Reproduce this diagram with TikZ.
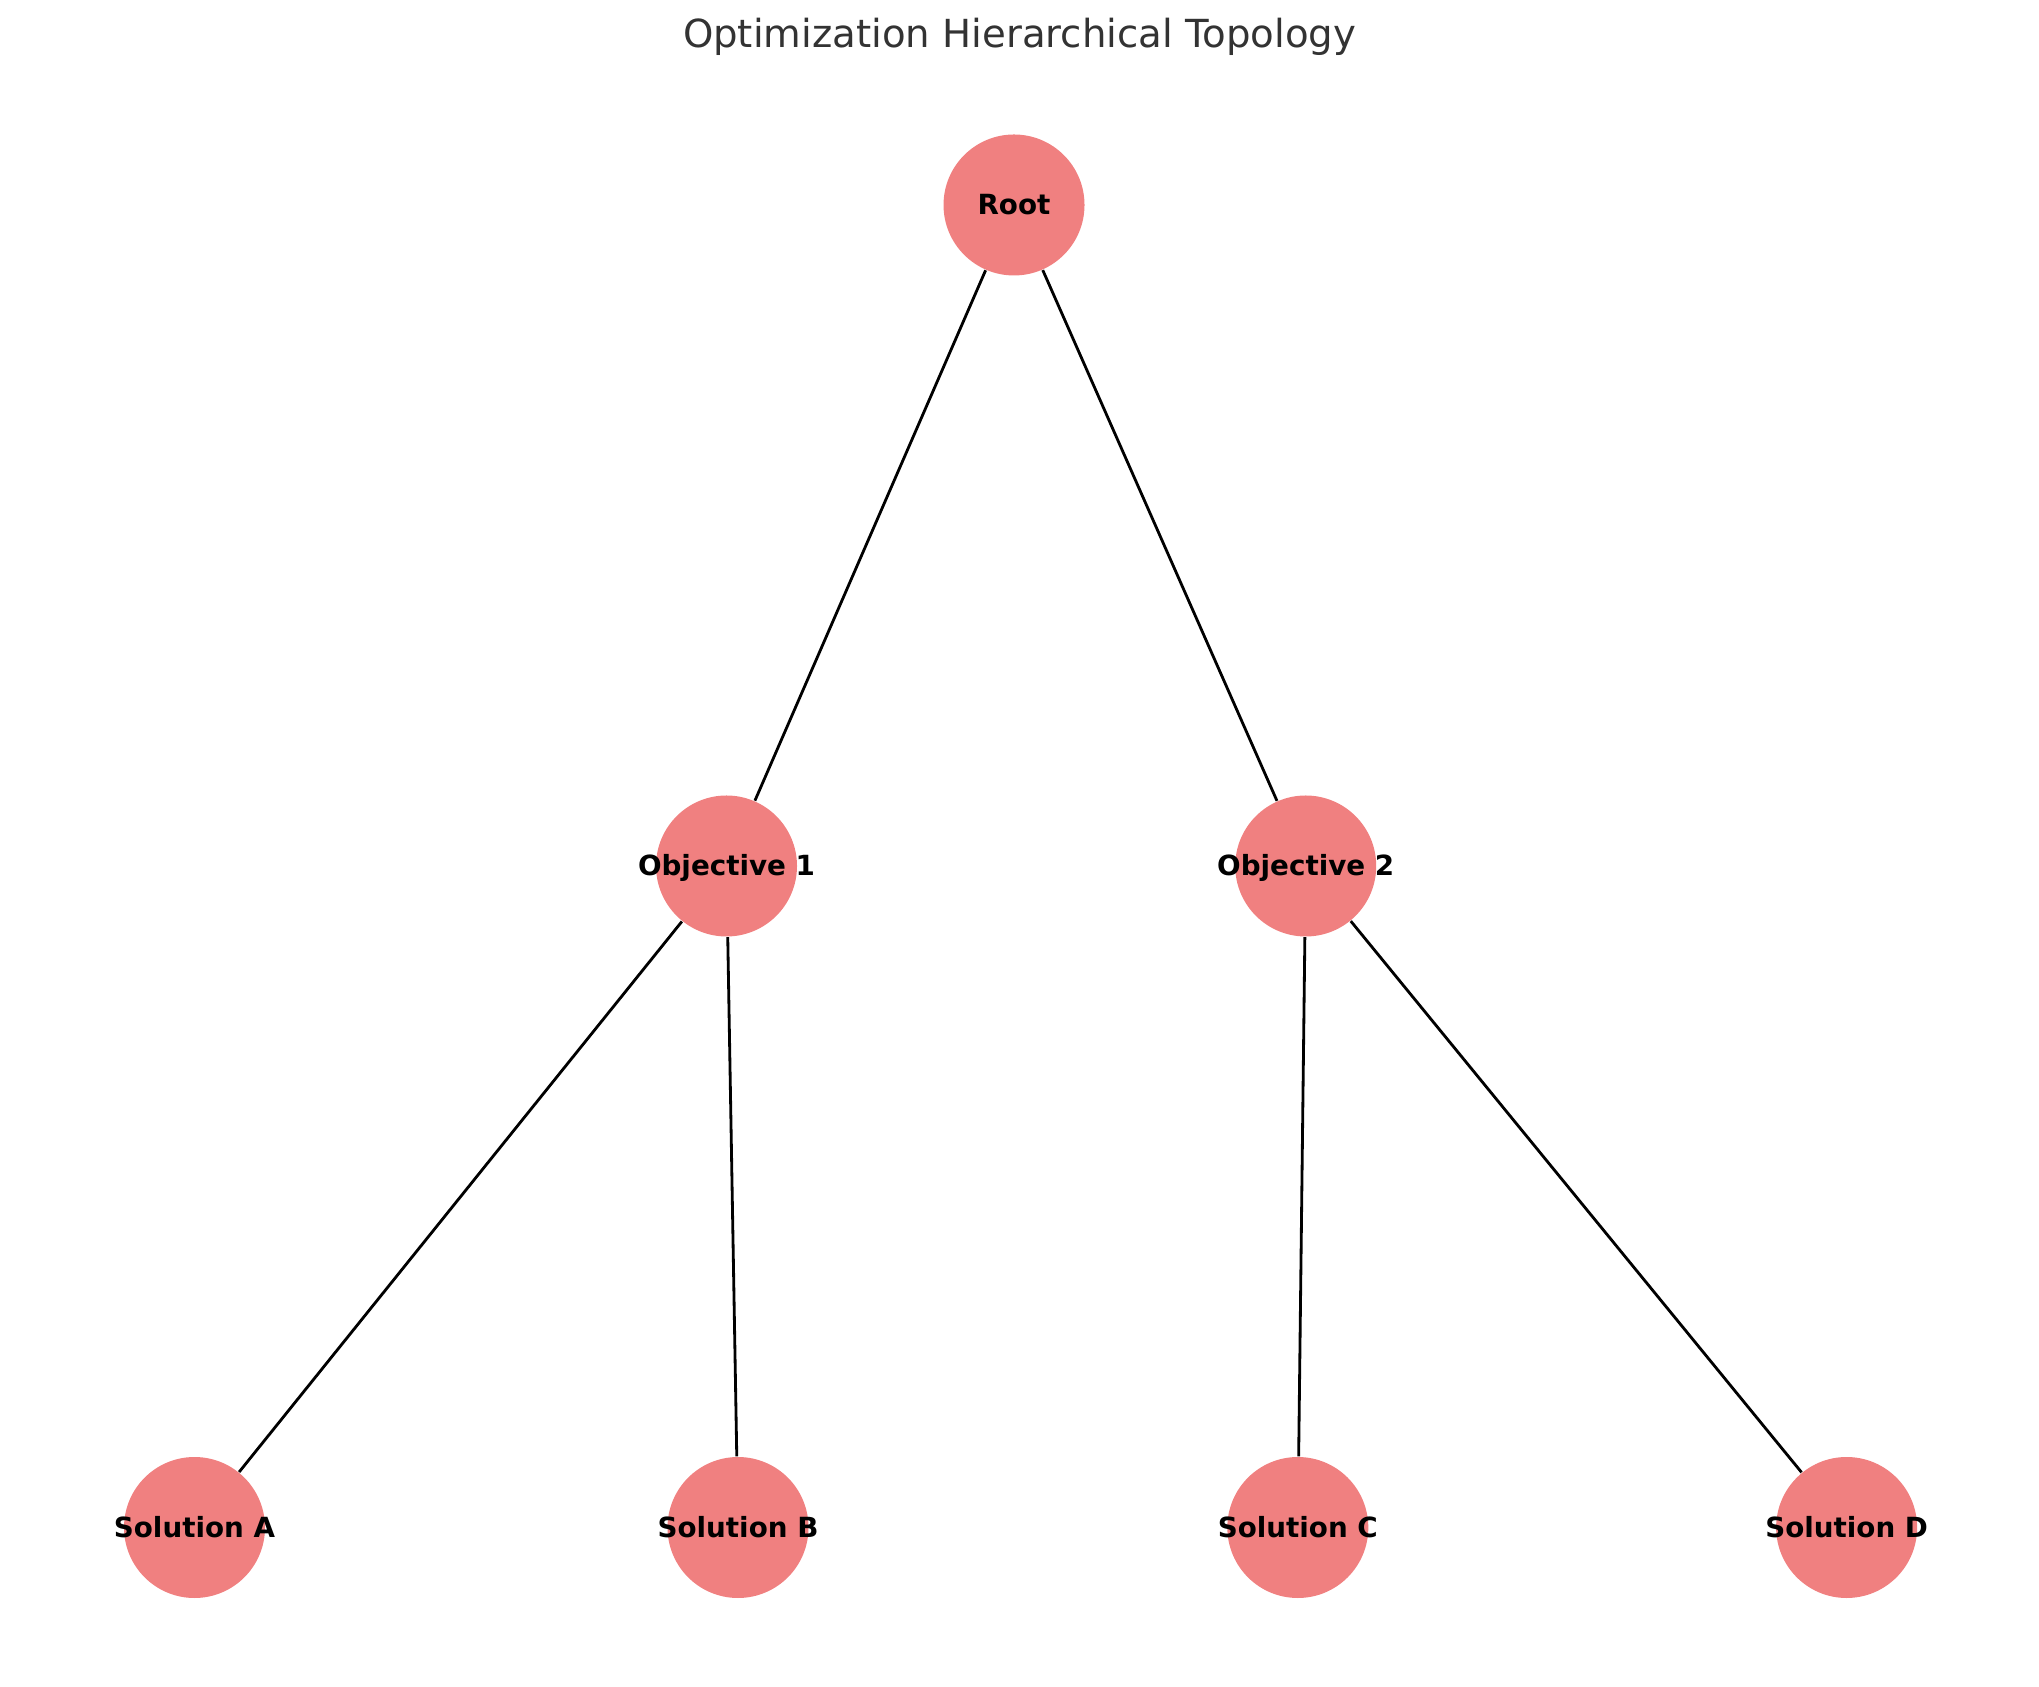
\documentclass[tikz,border=0pt]{standalone}
\usepackage{fontspec}
\setmainfont{DejaVu Sans}
\definecolor{nodecoral}{RGB}{240,128,128}
\definecolor{titlegray}{RGB}{51,51,51}
\begin{document}
\begin{tikzpicture}[
    vertex/.style={circle,fill=nodecoral,minimum size=1.41cm,inner sep=0pt},
    vertexlabel/.style={font=\fontsize{7.9}{9}\selectfont\bfseries,inner sep=0pt,text height=0.73em,text depth=0pt,yshift=0.03cm},
    edge/.style={line width=0.8pt,black}]
    \useasboundingbox (0,0) rectangle (20.39,16.86);
    \node[font=\fontsize{11}{13}\selectfont,text=titlegray,anchor=base] (title) at (10.195,16.38) {Optimization Hierarchical Topology};
    \foreach \name/\xi/\yi/\txt in {
        root/10.14/14.81/Root,
        obj1/7.265/8.20/Objective 1,
        obj2/13.057/8.20/Objective 2,
        solA/1.945/1.585/Solution A,
        solB/7.38/1.585/Solution B,
        solC/12.978/1.585/Solution C,
        solD/18.466/1.585/Solution D}{
        \node[vertex,label={[vertexlabel]center:\txt}] (\name) at (\xi,\yi) {};
    }
    \foreach \a/\b in {root/obj1, root/obj2, obj1/solA, obj1/solB, obj2/solC, obj2/solD}{
        \draw[edge] (\a)--(\b);
    }
\end{tikzpicture}
\end{document}
